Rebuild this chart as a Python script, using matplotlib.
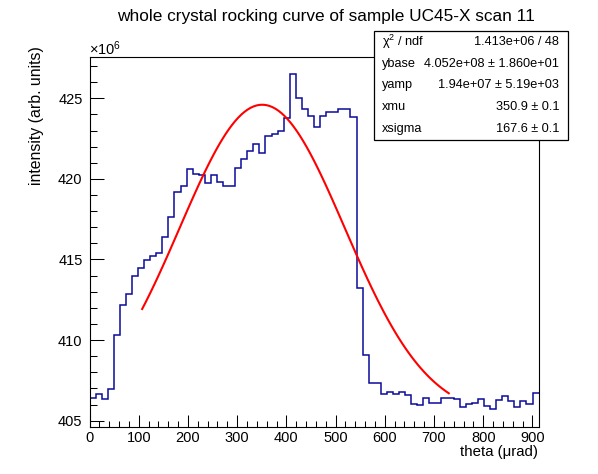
import numpy as np
import matplotlib
matplotlib.use("Agg")
import matplotlib.pyplot as plt
from matplotlib.ticker import MultipleLocator

plt.rcParams['font.family'] = ['Liberation Sans', 'DejaVu Sans']
plt.rcParams['mathtext.fontset'] = 'custom'
plt.rcParams['mathtext.rm'] = 'Liberation Sans'
plt.rcParams['mathtext.it'] = 'Liberation Sans:italic'

# ---- data ----
x_min, x_max = 0.0, 912.5
n_bins = 74
counts_1e6 = [
    406.40, 406.65, 406.34, 406.96, 410.31, 412.17, 412.86, 413.98, 414.47, 414.97,
    415.22, 415.42, 416.40, 417.64, 419.18, 419.58, 420.62, 420.31, 420.25, 419.75,
    420.25, 419.80, 419.58, 419.58, 420.69, 421.25, 421.75, 422.19, 421.63, 422.63,
    422.81, 423.00, 423.75, 426.50, 425.04, 424.33, 423.92, 423.21, 423.92, 424.13,
    424.13, 424.33, 424.33, 423.81, 413.22, 409.08, 407.32, 407.32, 406.66, 406.76,
    406.66, 406.76, 406.60, 406.02, 405.96, 406.43, 406.12, 406.08, 406.39, 406.39,
    406.33, 405.83, 406.04, 406.12, 406.33, 405.91, 405.71, 406.29, 406.53, 406.24,
    405.83, 406.20, 406.04, 406.70,
]
# fit parameters (from stats box)
ybase = 4.052e8
yamp = 1.94e7
xmu = 350.9
xsigma = 167.6
fit_range = (107.0, 730.0)

stat_labels = ['χ$^{2}$ / ndf', 'ybase', 'yamp', 'xmu', 'xsigma']
stat_values = ['1.413e+06 / 48', '4.052e+08 ± 1.860e+01', '1.94e+07 ± 5.19e+03',
               '350.9 ± 0.1', '167.6 ± 0.1']

title = 'whole crystal rocking curve of sample UC45-X scan 11'
xlabel = 'theta (μrad)'
ylabel = 'intensity (arb. units)'

# ---- figure ----
W, H = 598, 474
fig = plt.figure(figsize=(W / 100, H / 100), dpi=100)
fig.patch.set_facecolor('white')

def fx(px):
    return px / W

def fy(py):
    return 1 - py / H

ax_l, ax_r, ax_t, ax_b = 89.5, 538.6, 57.0, 427.0
ax = fig.add_axes([fx(ax_l), fy(ax_b), (ax_r - ax_l) / W, (ax_b - ax_t) / H])

edges = np.linspace(x_min, x_max, n_bins + 1)
ax.stairs(counts_1e6, edges, color='#0a0a9a', linewidth=1.1, baseline=None)

xf = np.linspace(fit_range[0], fit_range[1], 100)
yf = (ybase + yamp * np.exp(-0.5 * ((xf - xmu) / xsigma) ** 2)) / 1e6
ax.plot(xf, yf, color='#ff0000', linewidth=1.5)

ax.set_xlim(x_min, x_max)
ax.set_ylim(404.61, 427.56)

ax.xaxis.set_major_locator(MultipleLocator(100))
ax.xaxis.set_minor_locator(MultipleLocator(20))
ax.yaxis.set_major_locator(MultipleLocator(5))
ax.yaxis.set_minor_locator(MultipleLocator(1))

ax.tick_params(axis='x', which='major', direction='in', length=8.5, width=0.75,
               labelsize=10.5, pad=3, top=False)
ax.tick_params(axis='x', which='minor', direction='in', length=4.3, width=0.75, top=False)
ax.tick_params(axis='y', which='major', direction='in', length=10, width=0.75,
               labelsize=10.5, pad=5, right=False)
ax.tick_params(axis='y', which='minor', direction='in', length=5.3, width=0.75, right=False)

for s in ax.spines.values():
    s.set_linewidth(0.8)

# title and labels
fig.text(fx(326), fy(17), title, ha='center', va='center', fontsize=12.4)
fig.text(fx(538), fy(452), xlabel, ha='right', va='center', fontsize=10.8)
fig.text(fx(37), fy(46), ylabel, ha='center', va='top', rotation=90, fontsize=11.4)
fig.text(fx(89), fy(49), r'$\times10^{6}$', ha='left', va='center', fontsize=10.5)

# stats box
bx0, bx1, by0, by1 = 373.5, 568.0, 31.0, 139.5
box = plt.Rectangle((fx(bx0), fy(by1)), (bx1 - bx0) / W, (by1 - by0) / H,
                    transform=fig.transFigure, facecolor='white', edgecolor='black',
                    linewidth=0.9, zorder=5)
fig.add_artist(box)
row_h = (by1 - by0) / len(stat_labels)
for i, (lab, val) in enumerate(zip(stat_labels, stat_values)):
    yc = by0 + row_h * (i + 0.5)
    fig.text(fx(382), fy(yc), lab, ha='left', va='center', fontsize=9.2, zorder=6)
    fig.text(fx(559), fy(yc), val, ha='right', va='center', fontsize=9.2, zorder=6)

fig.savefig('out.png', dpi=100)
